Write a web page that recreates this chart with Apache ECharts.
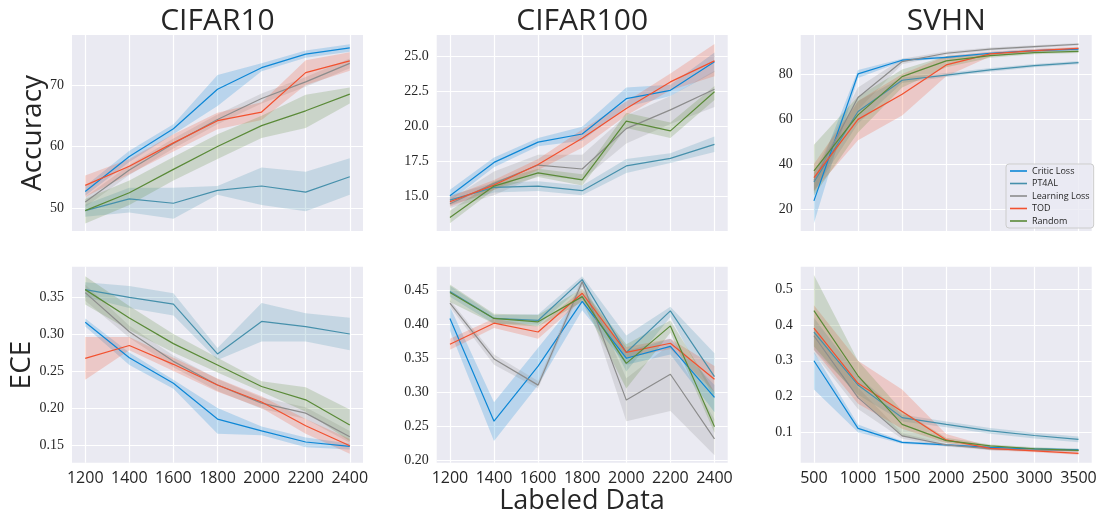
<!DOCTYPE html>
<html>
<head>
<meta charset="utf-8">
<script src="https://cdn.jsdelivr.net/npm/echarts@6/dist/echarts.min.js"></script>
<style>
html, body { margin: 0; padding: 0; background: #fff; }
#chart { width: 1101px; height: 514px; }
</style>
</head>
<body>
<div id="chart"></div>
<script>
// methods and x values
const methods = ["Critic Loss", "PT4AL", "Learning Loss", "TOD", "Random"];
const colors = ["#0d87d6", "#4690ab", "#8c8c8c", "#f2512f", "#5a8a38"];
const xCifar = [1200, 1400, 1600, 1800, 2000, 2200, 2400];
const xSvhn = [500, 1000, 1500, 2000, 2500, 3000, 3500];

// tick labels
const c10AccTicks = [50, 60, 70];
const c100AccTicks = [15, 17.5, 20, 22.5, 25];
const svhnAccTicks = [20, 40, 60, 80];
const c10EceTicks = [0.15, 0.2, 0.25, 0.3, 0.35];
const c100EceTicks = [0.2, 0.25, 0.3, 0.35, 0.4, 0.45];
const svhnEceTicks = [0.1, 0.2, 0.3, 0.4, 0.5];

// CIFAR10 accuracy (mean, band = [low, high])
const c10AccCritic = [52.7, 58.4, 62.9, 69.3, 72.8, 75.0, 76.0];
const c10AccCriticBand = [[52.0, 53.6], [57.5, 59.3], [62.0, 63.6], [66.6, 71.6], [72.2, 73.5], [74.4, 75.6], [75.4, 76.6]];
const c10AccPt4al = [49.6, 51.5, 50.8, 52.9, 53.6, 52.6, 55.1];
const c10AccPt4alBand = [[48.6, 50.6], [49.3, 53.3], [48.3, 53.3], [52.2, 53.6], [50.5, 56.6], [49.5, 55.9], [52.2, 58.1]];
const c10AccLL = [51.0, 56.2, 60.5, 64.4, 67.8, 70.5, 73.5];
const c10AccLLBand = [[50.2, 51.8], [55.4, 57.0], [59.7, 61.3], [63.6, 65.2], [67.0, 68.6], [69.7, 71.3], [72.7, 74.3]];
const c10AccTod = [53.7, 56.8, 60.6, 64.2, 65.6, 72.0, 73.9];
const c10AccTodBand = [[51.8, 55.3], [55.5, 58.0], [59.2, 62.0], [62.8, 65.5], [64.3, 67.2], [70.0, 74.0], [72.3, 75.3]];
const c10AccRandom = [49.6, 52.5, 56.3, 60.0, 63.4, 65.8, 68.5];
const c10AccRandomBand = [[47.5, 51.5], [50.5, 54.5], [54.5, 58.3], [58.0, 62.0], [61.4, 65.0], [63.0, 68.4], [67.0, 69.6]];

// CIFAR100 accuracy
const c100AccCritic = [15.07, 17.45, 18.9, 19.48, 22.0, 22.6, 24.64];
const c100AccCriticBand = [[14.7, 15.5], [17.1, 17.8], [18.6, 19.2], [19.0, 20.0], [21.4, 22.8], [22.2, 23.0], [23.9, 25.3]];
const c100AccPt4al = [14.76, 15.67, 15.76, 15.43, 17.2, 17.74, 18.74];
const c100AccPt4alBand = [[14.4, 15.1], [15.3, 16.0], [15.4, 16.1], [15.1, 15.8], [16.7, 17.7], [17.4, 18.1], [18.2, 19.3]];
const c100AccLL = [14.5, 15.95, 17.26, 16.98, 19.86, 21.2, 22.67];
const c100AccLLBand = [[14.2, 14.8], [15.1, 16.8], [16.5, 18.0], [16.2, 18.0], [18.8, 20.8], [20.2, 22.2], [21.4, 24.0]];
const c100AccTod = [14.64, 15.83, 17.3, 19.17, 21.3, 23.2, 24.7];
const c100AccTodBand = [[14.3, 15.0], [15.5, 16.2], [16.9, 17.7], [18.5, 19.8], [20.8, 21.8], [22.6, 23.8], [23.6, 25.9]];
const c100AccRandom = [13.52, 15.76, 16.7, 16.2, 20.4, 19.7, 22.5];
const c100AccRandomBand = [[13.1, 14.0], [15.5, 16.1], [16.4, 17.0], [15.8, 16.6], [19.9, 21.0], [19.2, 20.3], [21.9, 22.9]];

// SVHN accuracy
const svhnAccCritic = [23.6, 80.0, 86.1, 87.4, 89.2, 90.4, 91.0];
const svhnAccCriticBand = [[13.6, 32.1], [78.2, 81.8], [85.5, 86.7], [86.8, 88.0], [88.6, 89.8], [89.8, 91.0], [90.3, 91.7]];
const svhnAccPt4al = [32.0, 63.3, 77.2, 79.5, 81.8, 83.7, 85.0];
const svhnAccPt4alBand = [[28.0, 36.0], [58.0, 68.0], [76.0, 78.4], [78.6, 80.4], [81.0, 82.6], [83.0, 84.4], [84.3, 85.7]];
const svhnAccLL = [32.6, 69.5, 85.5, 89.2, 91.0, 92.1, 93.2];
const svhnAccLLBand = [[27.0, 36.5], [64.0, 74.0], [84.3, 86.7], [88.4, 90.0], [90.3, 91.7], [91.5, 92.7], [92.6, 93.8]];
const svhnAccTod = [33.9, 59.8, 71.0, 84.0, 88.9, 90.4, 91.4];
const svhnAccTodBand = [[28.0, 40.0], [50.5, 68.0], [61.5, 80.0], [79.0, 88.0], [87.8, 90.0], [89.6, 91.2], [90.7, 92.1]];
const svhnAccRandom = [36.9, 61.8, 78.8, 85.8, 88.1, 89.5, 90.0];
const svhnAccRandomBand = [[26.0, 48.5], [54.0, 70.0], [74.0, 82.0], [83.0, 88.0], [87.2, 89.0], [88.8, 90.2], [89.3, 90.7]];

// CIFAR10 ECE
const c10EceCritic = [0.316, 0.268, 0.2335, 0.185, 0.169, 0.154, 0.148];
const c10EceCriticBand = [[0.310, 0.321], [0.258, 0.275], [0.226, 0.238], [0.165, 0.200], [0.163, 0.175], [0.147, 0.160], [0.144, 0.152]];
const c10EcePt4al = [0.360, 0.3495, 0.3405, 0.273, 0.317, 0.310, 0.300];
const c10EcePt4alBand = [[0.350, 0.370], [0.335, 0.365], [0.325, 0.355], [0.265, 0.281], [0.290, 0.342], [0.290, 0.328], [0.278, 0.322]];
const c10EceLL = [0.356, 0.303, 0.263, 0.231, 0.2065, 0.193, 0.161];
const c10EceLLBand = [[0.345, 0.367], [0.295, 0.311], [0.255, 0.271], [0.223, 0.239], [0.199, 0.214], [0.185, 0.201], [0.153, 0.169]];
const c10EceTod = [0.267, 0.2845, 0.259, 0.231, 0.208, 0.176, 0.149];
const c10EceTodBand = [[0.238, 0.296], [0.278, 0.296], [0.250, 0.268], [0.222, 0.240], [0.200, 0.216], [0.165, 0.185], [0.138, 0.158]];
const c10EceRandom = [0.360, 0.3216, 0.287, 0.258, 0.229, 0.211, 0.177];
const c10EceRandomBand = [[0.340, 0.378], [0.305, 0.338], [0.275, 0.300], [0.248, 0.268], [0.222, 0.236], [0.195, 0.228], [0.155, 0.198]];

// CIFAR100 ECE
const c100EceCritic = [0.408, 0.257, 0.338, 0.433, 0.3495, 0.367, 0.292];
const c100EceCriticBand = [[0.390, 0.425], [0.228, 0.285], [0.310, 0.365], [0.420, 0.445], [0.340, 0.360], [0.355, 0.378], [0.270, 0.310]];
const c100EcePt4al = [0.4475, 0.408, 0.405, 0.465, 0.358, 0.419, 0.3225];
const c100EcePt4alBand = [[0.440, 0.456], [0.400, 0.413], [0.398, 0.414], [0.455, 0.470], [0.330, 0.383], [0.410, 0.425], [0.290, 0.357]];
const c100EceLL = [0.4305, 0.3485, 0.310, 0.462, 0.288, 0.326, 0.231];
const c100EceLLBand = [[0.425, 0.435], [0.340, 0.355], [0.305, 0.316], [0.455, 0.468], [0.257, 0.320], [0.272, 0.370], [0.207, 0.260]];
const c100EceTod = [0.370, 0.401, 0.388, 0.445, 0.358, 0.3715, 0.3186];
const c100EceTodBand = [[0.362, 0.378], [0.394, 0.408], [0.378, 0.396], [0.435, 0.450], [0.350, 0.366], [0.363, 0.378], [0.300, 0.338]];
const c100EceRandom = [0.446, 0.408, 0.403, 0.440, 0.342, 0.397, 0.249];
const c100EceRandomBand = [[0.432, 0.458], [0.400, 0.415], [0.396, 0.413], [0.432, 0.452], [0.305, 0.370], [0.387, 0.405], [0.240, 0.300]];

// SVHN ECE
const svhnEceCritic = [0.300, 0.111, 0.072, 0.0646, 0.058, 0.0534, 0.0506];
const svhnEceCriticBand = [[0.220, 0.325], [0.100, 0.122], [0.068, 0.076], [0.061, 0.068], [0.055, 0.061], [0.050, 0.057], [0.047, 0.054]];
const svhnEcePt4al = [0.380, 0.232, 0.141, 0.122, 0.104, 0.091, 0.080];
const svhnEcePt4alBand = [[0.330, 0.420], [0.205, 0.258], [0.130, 0.150], [0.114, 0.130], [0.096, 0.112], [0.083, 0.099], [0.072, 0.088]];
const svhnEceLL = [0.370, 0.197, 0.090, 0.0646, 0.0534, 0.050, 0.049];
const svhnEceLLBand = [[0.320, 0.390], [0.165, 0.225], [0.082, 0.097], [0.060, 0.069], [0.050, 0.057], [0.047, 0.053], [0.046, 0.052]];
const svhnEceTod = [0.391, 0.237, 0.158, 0.0786, 0.055, 0.048, 0.041];
const svhnEceTodBand = [[0.330, 0.455], [0.180, 0.300], [0.110, 0.220], [0.070, 0.095], [0.050, 0.060], [0.044, 0.052], [0.037, 0.045]];
const svhnEceRandom = [0.440, 0.258, 0.122, 0.0767, 0.0618, 0.054, 0.0497];
const svhnEceRandomBand = [[0.340, 0.540], [0.200, 0.300], [0.090, 0.160], [0.070, 0.085], [0.058, 0.066], [0.050, 0.058], [0.046, 0.054]];

// panel setup: grid boxes and axis ranges
const sansFont = "Open Sans";
const serifFont = "Liberation Serif";
const textColor = "#262626";
const colLeft = [72, 436.7, 800.7];
const rowTop = [35, 266.7];
const plotW = 291;
const plotH = 196;

const panels = [
    { x: xCifar, xr: [1140, 2460], yr: [46.3, 78.1], ticks: c10AccTicks, dec: 0,
      lines: [c10AccCritic, c10AccPt4al, c10AccLL, c10AccTod, c10AccRandom],
      bands: [c10AccCriticBand, c10AccPt4alBand, c10AccLLBand, c10AccTodBand, c10AccRandomBand] },
    { x: xCifar, xr: [1140, 2460], yr: [12.55, 26.55], ticks: c100AccTicks, dec: 1,
      lines: [c100AccCritic, c100AccPt4al, c100AccLL, c100AccTod, c100AccRandom],
      bands: [c100AccCriticBand, c100AccPt4alBand, c100AccLLBand, c100AccTodBand, c100AccRandomBand] },
    { x: xSvhn, xr: [350, 3650], yr: [10.2, 97.3], ticks: svhnAccTicks, dec: 0,
      lines: [svhnAccCritic, svhnAccPt4al, svhnAccLL, svhnAccTod, svhnAccRandom],
      bands: [svhnAccCriticBand, svhnAccPt4alBand, svhnAccLLBand, svhnAccTodBand, svhnAccRandomBand] },
    { x: xCifar, xr: [1140, 2460], yr: [0.126, 0.391], ticks: c10EceTicks, dec: 2,
      lines: [c10EceCritic, c10EcePt4al, c10EceLL, c10EceTod, c10EceRandom],
      bands: [c10EceCriticBand, c10EcePt4alBand, c10EceLLBand, c10EceTodBand, c10EceRandomBand] },
    { x: xCifar, xr: [1140, 2460], yr: [0.196, 0.484], ticks: c100EceTicks, dec: 2,
      lines: [c100EceCritic, c100EcePt4al, c100EceLL, c100EceTod, c100EceRandom],
      bands: [c100EceCriticBand, c100EcePt4alBand, c100EceLLBand, c100EceTodBand, c100EceRandomBand] },
    { x: xSvhn, xr: [350, 3650], yr: [0.015, 0.563], ticks: svhnEceTicks, dec: 1,
      lines: [svhnEceCritic, svhnEcePt4al, svhnEceLL, svhnEceTod, svhnEceRandom],
      bands: [svhnEceCriticBand, svhnEcePt4alBand, svhnEceLLBand, svhnEceTodBand, svhnEceRandomBand] },
];

// 置信区间 band drawn as a polygon through the axis scales
const bandSeries = (xs, band, color, gi) => ({
    type: "custom",
    xAxisIndex: gi,
    yAxisIndex: gi,
    silent: true,
    z: 1,
    encode: { x: 0, y: [1, 2] },
    data: xs.map((x, i) => [x, band[i][0], band[i][1]]),
    renderItem: (params, api) => {
        if (params.dataIndex !== 0) return;
        const top = xs.map((x, i) => api.coord([x, band[i][1]]));
        const bottom = xs.map((x, i) => api.coord([x, band[i][0]])).reverse();
        return {
            type: "polygon",
            shape: { points: top.concat(bottom) },
            style: { fill: color, opacity: 0.22 },
        };
    },
});

const grids = [];
const xAxes = [];
const yAxes = [];
const series = [];

panels.forEach((p, gi) => {
    const row = Math.floor(gi / 3);
    const col = gi % 3;
    grids.push({
        left: colLeft[col],
        top: rowTop[row],
        width: plotW,
        height: plotH,
        show: true,
        backgroundColor: "#eaeaf2",
        borderWidth: 0,
        outerBoundsMode: "none",
    });
    xAxes.push({
        type: "value",
        gridIndex: gi,
        min: p.xr[0],
        max: p.xr[1],
        axisLine: { show: false },
        axisTick: { show: false, customValues: p.x },
        axisLabel: {
            show: row === 1,
            customValues: p.x,
            formatter: (v) => String(v),
            fontFamily: sansFont,
            fontSize: 16,
            color: textColor,
            margin: 8,
        },
        splitLine: { show: true, lineStyle: { color: "#ffffff", width: 1.2 } },
    });
    yAxes.push({
        type: "value",
        gridIndex: gi,
        min: p.yr[0],
        max: p.yr[1],
        axisLine: { show: false },
        axisTick: { show: false, customValues: p.ticks },
        axisLabel: {
            customValues: p.ticks,
            formatter: (v) => Number(v).toFixed(p.dec),
            fontFamily: serifFont,
            fontSize: 14,
            color: textColor,
            margin: 8,
        },
        splitLine: { show: true, lineStyle: { color: "#ffffff", width: 1.2 } },
    });
    methods.forEach((m, k) => {
        series.push(bandSeries(p.x, p.bands[k], colors[k], gi));
    });
    methods.forEach((m, k) => {
        series.push({
            type: "line",
            name: m,
            xAxisIndex: gi,
            yAxisIndex: gi,
            data: p.x.map((x, i) => [x, p.lines[k][i]]),
            symbol: "none",
            z: 2,
            lineStyle: { color: colors[k], width: 1.2 },
            itemStyle: { color: colors[k] },
        });
    });
});

const titles = ["CIFAR10", "CIFAR100", "SVHN"];
const graphics = titles.map((t, c) => ({
    type: "text",
    x: colLeft[c] + plotW / 2,
    y: 21,
    style: { text: t, font: "30px '" + sansFont + "'", fill: textColor, textAlign: "center", textVerticalAlign: "middle" },
}));
graphics.push(
    {
        type: "text", x: 33, y: 133, rotation: Math.PI / 2,
        style: { text: "Accuracy", font: "28px '" + sansFont + "'", fill: textColor, textAlign: "center", textVerticalAlign: "middle" },
    },
    {
        type: "text", x: 22, y: 365, rotation: Math.PI / 2,
        style: { text: "ECE", font: "28px '" + sansFont + "'", fill: textColor, textAlign: "center", textVerticalAlign: "middle" },
    },
    {
        type: "text", x: 582, y: 501,
        style: { text: "Labeled Data", font: "27px '" + sansFont + "'", fill: textColor, textAlign: "center", textVerticalAlign: "middle" },
    }
);

const myChart = echarts.init(document.getElementById("chart"), null, { renderer: "canvas" });
myChart.setOption({
    animation: false,
    backgroundColor: "#ffffff",
    grid: grids,
    xAxis: xAxes,
    yAxis: yAxes,
    legend: {
        data: methods,
        orient: "vertical",
        left: 1006,
        top: 164,
        icon: "rect",
        itemWidth: 17,
        itemHeight: 1.6,
        itemGap: 2.5,
        padding: [2, 4],
        backgroundColor: "rgba(234,234,242,0.8)",
        borderColor: "#cccccc",
        borderWidth: 1,
        borderRadius: 3,
        textStyle: { fontFamily: sansFont, fontSize: 9, color: textColor, lineHeight: 10 },
    },
    series: series,
    graphic: graphics,
});
</script>
</body>
</html>
